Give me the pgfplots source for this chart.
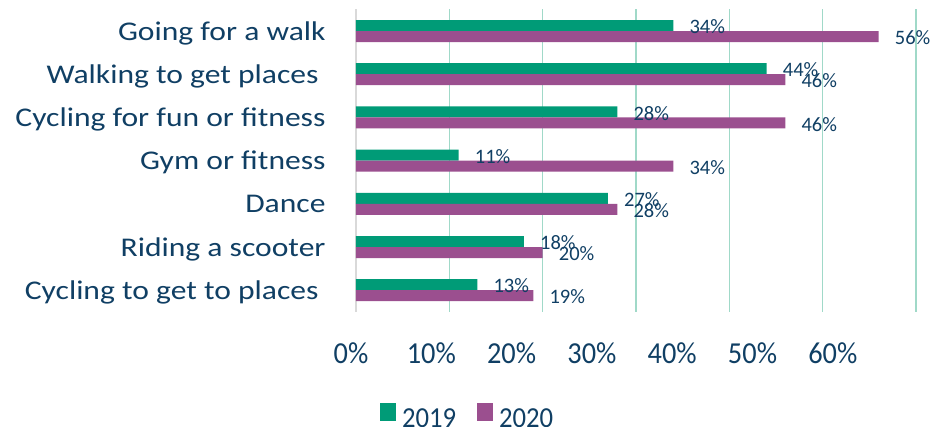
\documentclass[border=0pt]{standalone}
\usepackage{fontspec}
\setmainfont{Carlito}
\newfontfamily\catfont[FakeStretch=1.17]{Carlito}
\newfontfamily\tickfont[FakeStretch=0.93]{Carlito}
\newfontfamily\legfont[FakeStretch=0.92]{Carlito}
\usepackage{pgfplots}
\pgfplotsset{compat=1.18}
\definecolor{cgreen}{HTML}{009B77}
\definecolor{cpurple}{HTML}{9B4F8F}
\definecolor{cgrid}{HTML}{A0D9C8}
\definecolor{cnavy}{HTML}{103F64}
\definecolor{caxis}{HTML}{D9D9D9}
\begin{document}
\begin{tikzpicture}[x=1pt,y=1pt]
% main axis with bars
\begin{axis}[
  at={(356pt,114.2pt)}, anchor=south west,
  scale only axis, width=560pt, height=302.4pt,
  xbar, bar width=11pt,
  xmin=0, xmax=60, ymin=-0.5, ymax=6.5,
  xtick={10,20,30,40,50,60}, xticklabels={},
  extra x ticks={0}, extra x tick labels={},
  extra x tick style={grid style={draw=caxis, line width=2pt}},
  xmajorgrids, grid style={draw=cgrid, line width=1.3pt},
  axis line style={draw=none}, tick style={draw=none},
  ytick={0,1,2,3,4,5,6},
  yticklabels={Cycling to get to places\kern7pt, Riding a scooter, Dance, Gym or fitness, Cycling for fun or fitness, Walking to get places\kern7pt, Going for a walk},
  yticklabel style={anchor=base east, inner sep=0pt, xshift=-26pt, yshift=-9pt, font=\catfont\fontsize{27}{30}\selectfont, text=cnavy},
  point meta=x,
  nodes near coords={\pgfmathprintnumber[assume math mode=true]{\pgfplotspointmeta}\%},
  nodes near coords style={anchor=west, inner sep=0pt, xshift=16pt, yshift=-1.3pt, font=\fontsize{20.5}{22}\selectfont, text=cnavy},
  legend columns=2,
  legend image code/.code={\fill (0pt,-2pt) rectangle (16pt,16pt);},
  legend style={at={(0.0429,-0.344)}, anchor=west, draw=none, fill=none, inner sep=0pt, outer sep=0pt,
    nodes={inner sep=0pt, text=cnavy, font=\legfont\fontsize{29}{32}\selectfont},
    /tikz/every odd column/.append style={column sep=6pt},
    /tikz/every even column/.append style={column sep=21pt}},
]
\addplot[fill=cgreen, draw=none, bar shift=5.5pt] coordinates {
  (13,0) (18,1) (27,2) (11,3) (28,4) (44,5) (34,6)};
\addplot[fill=cpurple, draw=none, bar shift=-5.5pt] coordinates {
  (19,0) (20,1) (28,2) (34,3) (46,4) (46,5) (56,6)};
\legend{2019,2020}
\end{axis}
% tick label axis
\begin{axis}[
  at={(351pt,114.2pt)}, anchor=south west,
  scale only axis, width=481.8pt, height=302.4pt,
  xmin=0, xmax=60, ymin=0, ymax=1,
  ytick=\empty, xtick={0,10,20,30,40,50,60},
  xticklabels={0\%,10\%,20\%,30\%,40\%,50\%,60\%},
  axis line style={draw=none}, tick style={draw=none},
  xticklabel style={anchor=base, inner sep=0pt, yshift=-51.5pt, font=\tickfont\fontsize{30.5}{33}\selectfont, text=cnavy},
]
\end{axis}
\pgfresetboundingbox
\path (0,0) rectangle (937,426);
\end{tikzpicture}
\end{document}
